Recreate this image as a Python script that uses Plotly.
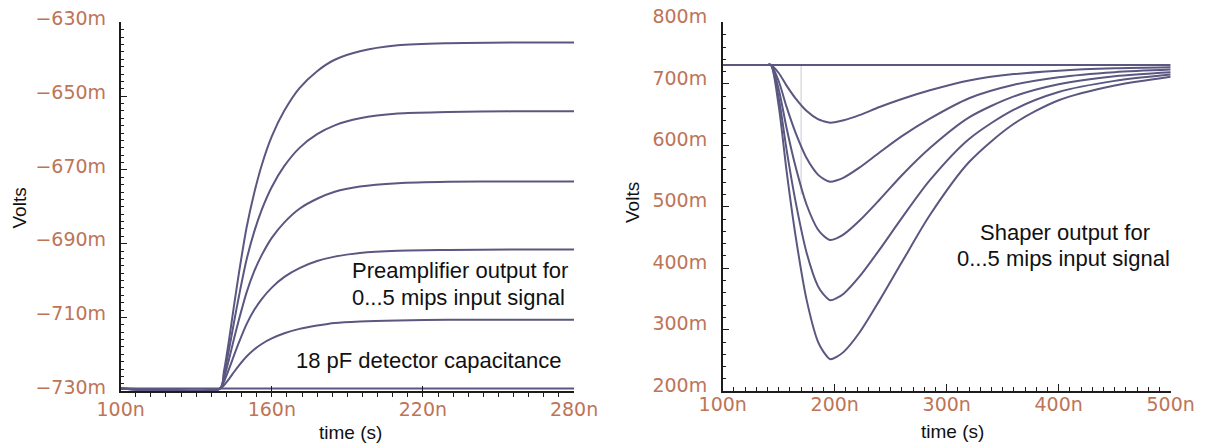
import plotly.graph_objects as go

# ---------------- Preamplifier output (left panel) ----------------
# time in ns, output in mV
pre_t = [100, 139.4, 141, 143, 145, 147, 150, 153, 156, 160, 165, 171, 178, 185, 195, 210, 230, 255, 280]
pre_1mip = [-729.3, -729.3, -728.4, -726.7, -724.8, -723.0, -720.6, -718.7, -717.2, -715.7, -714.3, -713.1, -712.2, -711.5, -711.1, -710.8, -710.6, -710.6, -710.6]
pre_2mip = [-729.3, -729.3, -727.4, -724.0, -720.3, -716.7, -711.8, -708.0, -705.0, -701.9, -699.0, -696.6, -694.7, -693.5, -692.5, -691.9, -691.7, -691.6, -691.6]
pre_3mip = [-729.3, -729.3, -726.5, -721.4, -715.8, -710.5, -703.2, -697.5, -693.1, -688.4, -684.2, -680.5, -677.8, -675.9, -674.5, -673.6, -673.2, -673.1, -673.1]
pre_4mip = [-729.3, -729.3, -725.5, -718.8, -711.3, -704.1, -694.3, -686.8, -680.8, -674.6, -668.9, -664.0, -660.3, -657.9, -656.0, -654.7, -654.3, -654.1, -654.1]
pre_5mip = [-729.3, -729.3, -724.6, -716.2, -706.8, -697.8, -685.6, -676.3, -668.7, -660.9, -653.9, -647.8, -643.2, -640.1, -637.8, -636.2, -635.6, -635.4, -635.4]
pre_0mip_t = [100, 280]
pre_0mip = [-729.3, -729.3]

pre_xtick_vals = [100, 160, 220, 280]
pre_xtick_text = ["100n", "160n", "220n", "280n"]
pre_ytick_vals = [-730, -710, -690, -670, -650, -630]
pre_ytick_text = ["\u2212730m", "\u2212710m", "\u2212690m", "\u2212670m", "\u2212650m", "\u2212630m"]

# ---------------- Shaper output (right panel) ----------------
sh_t = [100, 140, 143, 150, 157, 165, 175, 185, 190, 196, 202, 208, 222, 240, 260, 285, 320, 360, 400, 450, 500]
sh_1mip = [731, 731, 731, 717.8, 697.2, 676.5, 655.8, 642.6, 639.4, 637.0, 638.4, 640.8, 649.2, 662.4, 675.5, 689.6, 705.6, 716.0, 721.6, 725.4, 727.2]
sh_2mip = [731, 731, 731, 704.4, 662.6, 620.8, 579.0, 552.4, 545.7, 541.0, 543.3, 547.6, 563.8, 588.5, 615.1, 643.6, 676.8, 698.7, 711.0, 719.2, 723.4]
sh_3mip = [731, 731, 731, 691.1, 628.4, 565.7, 503.0, 463.1, 453.1, 446.0, 449.1, 455.1, 477.3, 511.5, 551.4, 595.6, 645.5, 679.7, 699.6, 712.5, 719.0]
sh_4mip = [731, 731, 731, 677.4, 593.1, 508.9, 424.6, 371.0, 357.6, 348.0, 351.8, 358.7, 386.3, 430.3, 482.0, 543.3, 610.4, 658.2, 687.0, 705.0, 715.3]
sh_5mip = [731, 731, 731, 663.9, 558.6, 453.2, 347.8, 280.7, 264.0, 252.0, 256.3, 264.0, 295.1, 347.8, 410.1, 486.7, 572.9, 635.2, 673.5, 697.5, 711.8]
sh_0mip_t = [100, 500]
sh_0mip = [731, 731]
cursor_t = [170, 170]
cursor_v = [731, 520]

sh_xtick_vals = [100, 200, 300, 400, 500]
sh_xtick_text = ["100n", "200n", "300n", "400n", "500n"]
sh_ytick_vals = [200, 300, 400, 500, 600, 700, 800]
sh_ytick_text = ["200m", "300m", "400m", "500m", "600m", "700m", "800m"]

TRACE = "#5a5780"
AXIS = "#1c1c1c"
TICKLBL = "#bd7457"
TEXT = "#111111"
SANS = "Liberation Sans, Arial, sans-serif"
TICKFONT = dict(family="DejaVu Sans", size=19, color=TICKLBL)

fig = go.Figure()

for ys in [pre_1mip, pre_2mip, pre_3mip, pre_4mip, pre_5mip]:
    fig.add_trace(go.Scatter(x=pre_t, y=ys, mode="lines", xaxis="x", yaxis="y",
                             line=dict(color=TRACE, width=2, shape="spline", smoothing=0.8),
                             hoverinfo="skip", showlegend=False))
fig.add_trace(go.Scatter(x=pre_0mip_t, y=pre_0mip, mode="lines", xaxis="x", yaxis="y",
                         line=dict(color=TRACE, width=2), hoverinfo="skip", showlegend=False))

fig.add_trace(go.Scatter(x=cursor_t, y=cursor_v, mode="lines", xaxis="x2", yaxis="y2",
                         line=dict(color="#d2d2dc", width=1.2), hoverinfo="skip", showlegend=False))
for ys in [sh_1mip, sh_2mip, sh_3mip, sh_4mip, sh_5mip]:
    fig.add_trace(go.Scatter(x=sh_t, y=ys, mode="lines", xaxis="x2", yaxis="y2",
                             line=dict(color=TRACE, width=2, shape="spline", smoothing=0.8),
                             hoverinfo="skip", showlegend=False))
fig.add_trace(go.Scatter(x=sh_0mip_t, y=sh_0mip, mode="lines", xaxis="x2", yaxis="y2",
                         line=dict(color=TRACE, width=2), hoverinfo="skip", showlegend=False))

YDOM = [0.1268, 0.9498]
common = dict(showline=True, linecolor=AXIS, linewidth=1.5, showgrid=False, zeroline=False,
              tickcolor=AXIS, tickwidth=1.2, tickfont=TICKFONT, tickmode="array",
              automargin=False)

fig.update_layout(
    width=1209, height=448,
    margin=dict(l=0, r=0, t=0, b=0, autoexpand=False),
    paper_bgcolor="white", plot_bgcolor="white",
    xaxis=dict(domain=[0.0998, 0.4748], range=[100, 280], anchor="y",
               tickvals=pre_xtick_vals, ticktext=pre_xtick_text,
               ticks="inside", ticklen=5, ticklabelstandoff=0,
               minor=dict(ticks="outside", ticklen=4, tick0=100, dtick=6, tickcolor=AXIS, tickwidth=1),
               **common),
    yaxis=dict(domain=YDOM, range=[-730, -630], anchor="x",
               tickvals=pre_ytick_vals, ticktext=pre_ytick_text,
               ticks="inside", ticklen=7, ticklabelshift=-4, ticklabelstandoff=9,
               minor=dict(ticks="inside", ticklen=4, tick0=-730, dtick=2, tickcolor=AXIS, tickwidth=1),
               **common),
    xaxis2=dict(domain=[0.5978, 0.9683], range=[100, 500], anchor="y2",
                tickvals=sh_xtick_vals, ticktext=sh_xtick_text,
                ticks="inside", ticklen=7, ticklabelstandoff=-5,
                minor=dict(ticks="inside", ticklen=4, tick0=100, dtick=10, tickcolor=AXIS, tickwidth=1),
                **common),
    yaxis2=dict(domain=YDOM, range=[200, 800], anchor="x2",
                tickvals=sh_ytick_vals, ticktext=sh_ytick_text,
                ticks="inside", ticklen=7, ticklabelshift=-6, ticklabelstandoff=10,
                minor=dict(ticks="inside", ticklen=3.5, tick0=200, dtick=20, tickcolor=AXIS, tickwidth=1),
                **common),
)

def label(text, x, y, size=22, angle=0):
    fig.add_annotation(text=text, x=x / 1209, y=1 - y / 448, xref="paper", yref="paper",
                       xanchor="center", yanchor="middle", showarrow=False, textangle=angle,
                       font=dict(family=SANS, size=size, color=TEXT))

# axis titles
label("time (s)", 350, 432.7, size=19)
label("time (s)", 952.5, 431.7, size=19)
label("Volts", 18.5, 208, size=19, angle=-90)
label("Volts", 632, 203, size=19, angle=-90)

# panel notes
label("Preamplifier output for", 459.8, 270.8)
label("0...5 mips input signal", 458.3, 297.2)
label("18 pF detector capacitance", 428.3, 360)
label("Shaper output for", 1064.7, 232.8)
label("0...5 mips input signal", 1063.8, 258)

fig.write_html("out.html")
